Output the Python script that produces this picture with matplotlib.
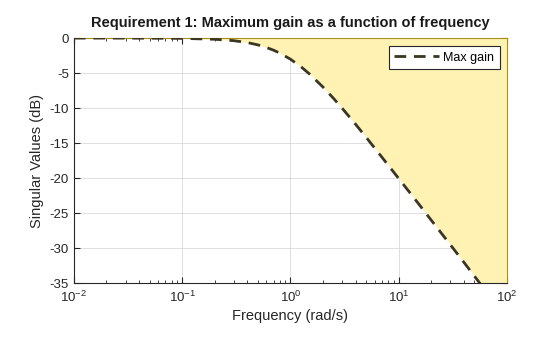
import numpy as np
import matplotlib.pyplot as plt

# max gain requirement
freq = [0.01, 0.03, 0.1, 0.2, 0.3, 0.4, 0.5, 0.6, 0.7, 0.8, 1.0, 1.25, 1.5,
        2.0, 2.5, 3.0, 4.0, 5.0, 7.0, 10.0, 15.0, 20.0, 30.0, 40.0, 56.2, 100.0]
gain_db = [0.0, -0.004, -0.04, -0.17, -0.37, -0.64, -0.97, -1.34, -1.73, -2.15,
           -3.01, -4.08, -5.12, -6.99, -8.6, -10.0, -12.3, -14.15, -17.0, -20.04,
           -23.5, -26.0, -29.5, -32.0, -35.0, -40.0]

plt.rcParams['font.family'] = ['Liberation Sans', 'DejaVu Sans']
plt.rcParams['axes.unicode_minus'] = False
plt.rcParams['mathtext.default'] = 'regular'

fig = plt.figure(figsize=(5.6, 3.37), dpi=100)
ax = fig.add_axes([0.132, 0.160, 0.773, 0.727])

ax.fill_between(freq, gain_db, 0, color='#FFF2B3', lw=0, zorder=1)
ax.plot(freq, gain_db, color='#3a3620', lw=2, ls=(0, (4.2, 2.8)), label='Max gain', zorder=3)

ax.set_xscale('log')
ax.set_xlim(1e-2, 1e2)
ax.set_ylim(-35, 0)
ax.set_yticks(np.arange(-35, 1, 5))
ax.grid(True, which='major', color='#d9d9d9', lw=0.6, zorder=0)
ax.set_axisbelow(True)

ax.tick_params(which='both', direction='in', top=True, right=True, colors='#262626', labelsize=9.5)
ax.tick_params(which='major', length=4)
ax.tick_params(which='minor', length=2.5)
ax.tick_params(axis='x', pad=5)
for s in ['left', 'bottom']:
    ax.spines[s].set_color('#262626')
for s in ['top', 'right']:
    ax.spines[s].set_color('#A8901A')
for s in ax.spines.values():
    s.set_linewidth(0.8)

ax.set_xlabel('Frequency (rad/s)', fontsize=10.5, color='#262626', labelpad=3)
ax.set_ylabel('Singular Values (dB)', fontsize=10.5, color='#262626')
ax.set_title('Requirement 1: Maximum gain as a function of frequency',
             fontsize=10.5, fontweight='bold', color='#1a1a1a', pad=8)

leg = ax.legend(loc='upper right', fontsize=9, fancybox=False, framealpha=1,
                edgecolor='#262626', handlelength=3.6, handletextpad=0.3, borderpad=0.45,
                borderaxespad=0, bbox_to_anchor=(0.984, 0.967))
leg.get_frame().set_linewidth(0.8)

fig.savefig('out.png', dpi=100)
